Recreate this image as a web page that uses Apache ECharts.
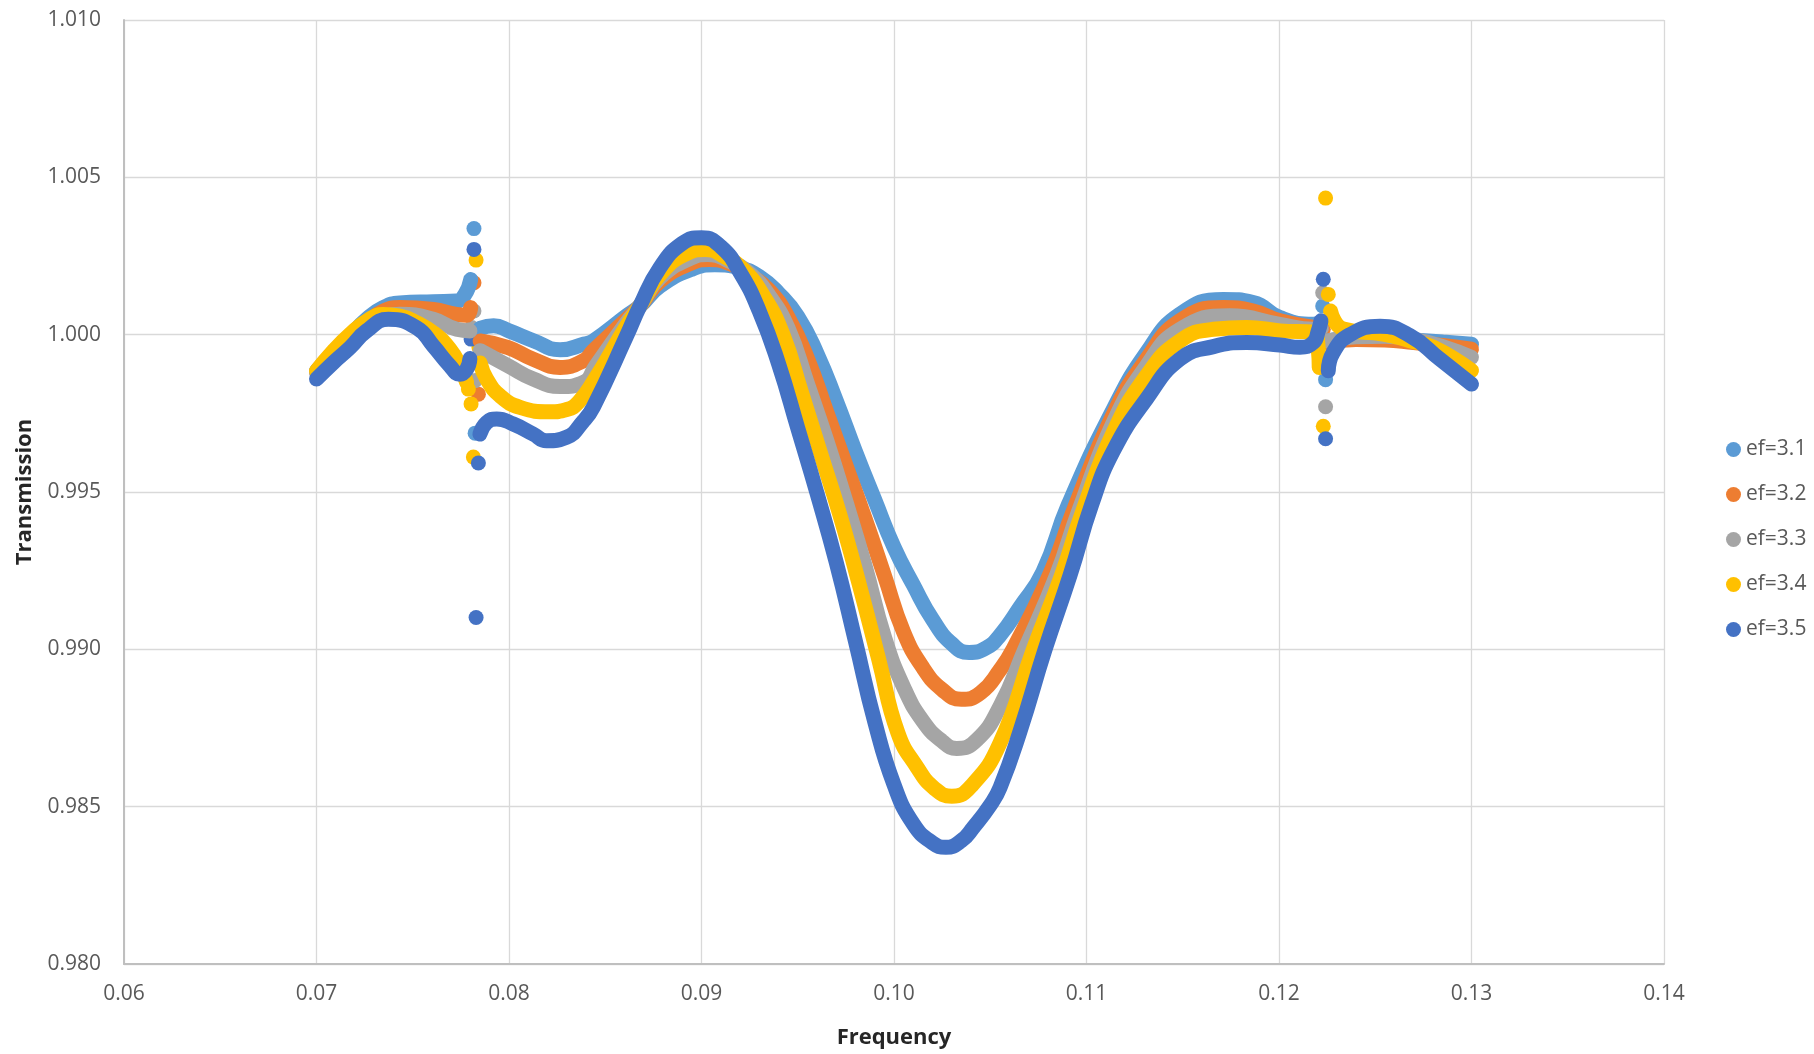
<!DOCTYPE html>
<html>
<head>
<meta charset="utf-8">
<script src="https://cdn.jsdelivr.net/npm/echarts@6/dist/echarts.min.js"></script>
<style>
html,body{margin:0;padding:0;background:#fff;}
#chart{width:1814px;height:1054px;}
</style>
</head>
<body>
<div id="chart"></div>
<script>
// ---- Data: [frequency, transmission] ----
const seriesNames = ['ef=3.1', 'ef=3.2', 'ef=3.3', 'ef=3.4', 'ef=3.5'];
const xTicks = [0.06, 0.07, 0.08, 0.09, 0.10, 0.11, 0.12, 0.13, 0.14];
const yTicks = [0.980, 0.985, 0.990, 0.995, 1.000, 1.005, 1.010];

// ef=3.1
const ef31_a = [[0.0700,0.99885],[0.07087,0.99943],[0.07174,0.99996],[0.0726,1.00049],[0.07347,1.00086],[0.07433,1.00101],[0.07607,1.00105],[0.07728,1.00107],[0.07771,1.00128],[0.07801,1.00175]];
const ef31_b = [[0.0785,1.0002],[0.0792,1.00028],[0.0800,1.00012],[0.0813,0.9998],[0.08265,0.99952],[0.0839,0.9997],[0.08438,0.9998],[0.08611,1.0006],[0.0868,1.00091],[0.08784,1.00154],[0.0895,1.00208],[0.0907,1.00222],[0.0920,1.00212],[0.0930,1.00185],[0.0940,1.00132],[0.0950,1.00058],[0.0960,0.9994],[0.0970,0.9979],[0.0980,0.99628],[0.0990,0.99475],[0.1000,0.99325],[0.1010,0.99205],[0.1020,0.99095],[0.1030,0.99018],[0.1039,0.9899],[0.1048,0.99005],[0.10551,0.99045],[0.10655,0.99135],[0.10773,0.99245],[0.10906,0.9946],[0.1114,0.99764],[0.11312,0.99943],[0.11485,1.00065],[0.11711,1.00112],[0.11866,1.00102],[0.12005,1.00054],[0.12178,1.00033],[0.1222,1.0004]];
const ef31_c = [[0.1225,0.9998],[0.1240,0.9999],[0.1255,0.99988],[0.1270,0.99983],[0.1285,0.99977],[0.1300,0.9997]];
const ef31_pts = [[0.07818,1.00337],[0.07824,0.99687],[0.12227,1.00091],[0.12242,0.99857]];

// ef=3.2
const ef32_a = [[0.0700,0.99882],[0.07087,0.99938],[0.07174,0.99991],[0.0726,1.00038],[0.07347,1.00075],[0.07433,1.00086],[0.07607,1.0008],[0.07728,1.00064],[0.0778,1.00062],[0.07801,1.00086]];
const ef32_b = [[0.0785,0.9998],[0.07996,0.99959],[0.08126,0.99922],[0.08265,0.99896],[0.08386,0.99917],[0.08438,0.99949],[0.08611,1.00049],[0.0868,1.00091],[0.08784,1.0017],[0.0895,1.00228],[0.0904,1.00239],[0.0915,1.00225],[0.0925,1.0019],[0.0935,1.00142],[0.0945,1.00055],[0.0955,0.99925],[0.0965,0.99755],[0.0975,0.99585],[0.0985,0.99415],[0.0995,0.99235],[0.1005,0.99055],[0.1015,0.98942],[0.1025,0.98872],[0.1035,0.98841],[0.1045,0.98862],[0.10551,0.98935],[0.1062,0.99002],[0.10814,0.99245],[0.10935,0.99445],[0.1114,0.99748],[0.11312,0.99922],[0.11485,1.00044],[0.11711,1.00086],[0.11866,1.00075],[0.12005,1.00044],[0.12178,1.00023],[0.1222,1.0002]];
const ef32_c = [[0.1225,0.99975],[0.1240,0.99985],[0.1255,0.99983],[0.1270,0.99975],[0.1285,0.99966],[0.1300,0.99954]];
const ef32_pts = [[0.07818,1.00165],[0.07841,0.99811],[0.12230,1.00017]];

// ef=3.3
const ef33_a = [[0.0700,0.9988],[0.07087,0.99935],[0.07174,0.99985],[0.0726,1.00028],[0.07347,1.00059],[0.07433,1.00065],[0.07607,1.00049],[0.07728,1.00017],[0.07797,1.00012]];
const ef33_b = [[0.0785,0.99949],[0.07996,0.99901],[0.08126,0.99859],[0.08265,0.99835],[0.08386,0.99848],[0.0845,0.999],[0.08611,1.00039],[0.0868,1.00091],[0.08784,1.00181],[0.0895,1.00245],[0.0903,1.00255],[0.0915,1.00232],[0.0925,1.00195],[0.0935,1.00125],[0.0945,1.0002],[0.0955,0.99845],[0.0965,0.99665],[0.0975,0.9947],[0.0985,0.99265],[0.0995,0.9904],[0.1005,0.9888],[0.1015,0.98772],[0.1025,0.98708],[0.10326,0.98685],[0.1043,0.98712],[0.10551,0.98819],[0.1068,0.990],[0.10845,0.99236],[0.1096,0.9944],[0.1114,0.99722],[0.11312,0.99901],[0.11485,1.00017],[0.11745,1.0006],[0.12005,1.00033],[0.12178,1.00017],[0.1222,1.0002]];
const ef33_c = [[0.1225,0.9998],[0.1240,0.99993],[0.1255,0.99995],[0.1270,0.99985],[0.1285,0.99962],[0.1300,0.99928]];
const ef33_pts = [[0.07818,1.00075],[0.07806,1.00023],[0.07824,0.99854],[0.12227,1.00133],[0.12242,0.99771]];

// ef=3.4
const ef34_a = [[0.0700,0.99885],[0.07087,0.99948],[0.07174,1.00001],[0.0726,1.00043],[0.07347,1.00064],[0.07433,1.00059],[0.0752,1.00038],[0.07607,1.00006],[0.07693,0.99954],[0.07745,0.99901],[0.0778,0.99848]];
const ef34_b = [[0.0785,0.9991],[0.07884,0.99859],[0.07953,0.99806],[0.08057,0.99769],[0.08213,0.99755],[0.0830,0.99762],[0.0836,0.99785],[0.08438,0.9985],[0.08611,1.00028],[0.0868,1.00091],[0.08784,1.00191],[0.0893,1.0026],[0.0902,1.00271],[0.0912,1.00248],[0.0922,1.00205],[0.0932,1.00125],[0.0942,1.00005],[0.0952,0.99815],[0.0962,0.9962],[0.0972,0.99425],[0.0982,0.99205],[0.0992,0.9897],[0.1002,0.98735],[0.1012,0.98625],[0.1021,0.98558],[0.1030,0.98533],[0.1040,0.98565],[0.10551,0.98703],[0.10724,0.990],[0.10871,0.99236],[0.10984,0.99445],[0.1114,0.9969],[0.11312,0.9987],[0.11485,0.9998],[0.11659,1.00017],[0.11832,1.00023],[0.12005,1.00012],[0.12178,1.00007],[0.12204,0.99954],[0.12209,0.99896]];
const ef34_c = [[0.12268,1.00075],[0.12334,1.00018],[0.12542,1.00002],[0.1268,0.99981],[0.12802,0.9996],[0.1300,0.99886]];
const ef34_pts = [[0.07829,1.00237],[0.07844,0.99959],[0.07789,0.99827],[0.07803,0.9978],[0.07815,0.99611],[0.12242,1.00434],[0.12256,1.00128],[0.12230,0.99709]];

// ef=3.5
const ef35_a = [[0.0700,0.99859],[0.07087,0.99911],[0.07174,0.99959],[0.0726,1.00012],[0.07373,1.00049],[0.0752,1.00022],[0.07607,0.99964],[0.07693,0.99901],[0.07745,0.99874],[0.0778,0.9989],[0.07797,0.99924]];
const ef35_b = [[0.07849,0.99684],[0.07884,0.99721],[0.07936,0.99732],[0.08022,0.99716],[0.08126,0.99684],[0.08195,0.99663],[0.08299,0.99674],[0.08386,0.99725],[0.08438,0.9977],[0.08611,0.99996],[0.0868,1.00091],[0.08784,1.00213],[0.0890,1.0029],[0.0900,1.00308],[0.0910,1.0028],[0.0920,1.00198],[0.0930,1.00075],[0.0940,0.99908],[0.0950,0.99703],[0.0960,0.99496],[0.0970,0.99276],[0.0980,0.99025],[0.0990,0.9877],[0.1000,0.9857],[0.1010,0.98445],[0.1020,0.98385],[0.1027,0.98371],[0.1035,0.98392],[0.10412,0.98434],[0.1050,0.98505],[0.10551,0.98561],[0.10655,0.9874],[0.10785,0.990],[0.10915,0.99236],[0.11027,0.9946],[0.11139,0.9963],[0.11312,0.99796],[0.11485,0.99922],[0.11659,0.99962],[0.11832,0.99975],[0.12005,0.99967],[0.12109,0.9996],[0.12178,0.99975],[0.12204,1.00012],[0.12218,1.00044]];
const ef35_c = [[0.12256,0.99885],[0.12282,0.99944],[0.12369,1.0],[0.12525,1.00027],[0.1268,0.99997],[0.12836,0.99922],[0.1300,0.99843]];
const ef35_pts = [[0.07818,1.00271],[0.07803,0.99986],[0.07841,0.99592],[0.07829,0.99101],[0.12230,1.00176],[0.12242,0.99669]];

const colors = ['#5B9BD5', '#ED7D31', '#A5A5A5', '#FFC000', '#4472C4'];
const groups = [
  [ef31_a, ef31_b, ef31_c, ef31_pts],
  [ef32_a, ef32_b, ef32_c, ef32_pts],
  [ef33_a, ef33_b, ef33_c, ef33_pts],
  [ef34_a, ef34_b, ef34_c, ef34_pts],
  [ef35_a, ef35_b, ef35_c, ef35_pts]
];

const FONT = '"Open Sans", "Liberation Sans", sans-serif';
const series = [];
groups.forEach((g, i) => {
  const c = colors[i];
  [g[0], g[1], g[2]].forEach(seg => {
    series.push({
      name: seriesNames[i], type: 'line', data: seg, smooth: 0.5,
      showSymbol: false, symbol: 'none', silent: true,
      itemStyle: { color: c },
      lineStyle: { color: c, width: 15, cap: 'round', join: 'round' }
    });
  });
  series.push({
    name: seriesNames[i], type: 'scatter', data: g[3], symbol: 'circle',
    symbolSize: 15, silent: true, itemStyle: { color: c, opacity: 1 }
  });
});

const chart = echarts.init(document.getElementById('chart'), null, { renderer: 'canvas' });
chart.setOption({
  animation: false,
  backgroundColor: '#ffffff',
  textStyle: { fontFamily: FONT },
  grid: { left: 124, right: 150, top: 20, bottom: 87, containLabel: false },
  legend: {
    data: seriesNames, orient: 'vertical', left: 1721, top: 434,
    icon: 'circle', itemWidth: 15, itemHeight: 15, itemGap: 24,
    textStyle: { fontSize: 21, color: '#595959', fontFamily: FONT, lineHeight: 20 },
    selectedMode: false
  },
  xAxis: {
    type: 'value', min: xTicks[0], max: xTicks[xTicks.length - 1], interval: 0.01,
    name: 'Frequency', nameLocation: 'middle', nameGap: 63,
    nameTextStyle: { fontSize: 22, fontWeight: 'bold', color: '#262626', fontFamily: FONT },
    axisLine: { show: true, onZero: false, lineStyle: { color: '#BFBFBF', width: 2 } },
    axisTick: { show: false },
    axisLabel: { margin: 20, fontSize: 21, color: '#595959', fontFamily: FONT,
      formatter: v => v.toFixed(2) },
    splitLine: { show: true, lineStyle: { color: '#D9D9D9', width: 1.3 } }
  },
  yAxis: {
    type: 'value', min: yTicks[0], max: yTicks[yTicks.length - 1], interval: 0.005,
    name: 'Transmission', nameLocation: 'middle', nameGap: 88, nameRotate: 90,
    nameTextStyle: { fontSize: 22, fontWeight: 'bold', color: '#262626', fontFamily: FONT },
    axisLine: { show: true, onZero: false, lineStyle: { color: '#BFBFBF', width: 2 } },
    axisTick: { show: false },
    axisLabel: { margin: 23, fontSize: 21, color: '#595959', fontFamily: FONT,
      formatter: v => v.toFixed(3) },
    splitLine: { show: true, lineStyle: { color: '#D9D9D9', width: 1.3 } }
  },
  series: series
});
</script>
</body>
</html>
